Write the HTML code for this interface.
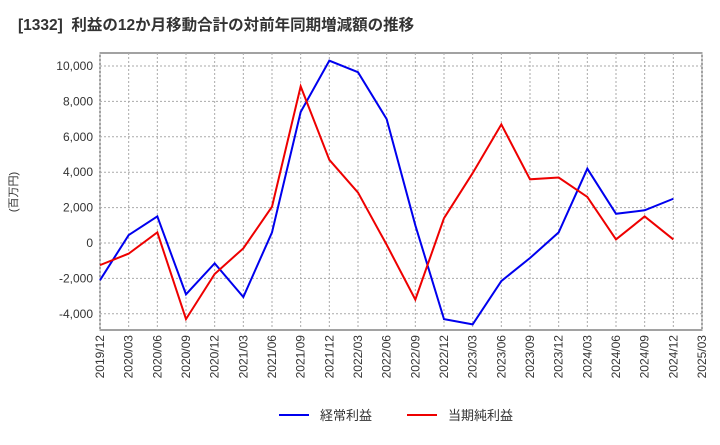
<!DOCTYPE html>
<html><head><meta charset="utf-8"><style>
body{margin:0;background:#fff;font-family:"Liberation Sans","Noto Sans CJK JP",sans-serif;}
svg text{font-family:"Liberation Sans","Noto Sans CJK JP",sans-serif;}
</style></head><body>
<svg id="c" width="720" height="440">
<text x="18" y="30" font-size="15.5" font-weight="bold" fill="#333" xml:space="preserve">[1332]  利益の12か月移動合計の対前年同期増減額の推移</text>
<text transform="translate(17,192) rotate(-90)" text-anchor="middle" font-size="11" fill="#333">(百万円)</text>
<rect x="100" y="53" width="602" height="277" fill="#fff" stroke="#444"/>
<g id="grid"></g><g id="axes"></g><g id="series"></g>
<g>
<line x1="279" y1="415" x2="309" y2="415" stroke="#0000ee" stroke-width="2"/>
<text x="320" y="420" font-size="13" fill="#333">経常利益</text>
<line x1="407" y1="415" x2="437" y2="415" stroke="#ee0000" stroke-width="2"/>
<text x="448" y="420" font-size="13" fill="#333">当期純利益</text>
</g>
</svg>
<script>
const categories=["2019/12","2020/03","2020/06","2020/09","2020/12","2021/03","2021/06","2021/09","2021/12","2022/03","2022/06","2022/09","2022/12","2023/03","2023/06","2023/09","2023/12","2024/03","2024/06","2024/09","2024/12","2025/03"];
const keijo=[-2100,450,1500,-2900,-1150,-3050,600,7400,10300,9650,7000,1000,-4300,-4600,-2150,-850,600,4200,1650,1850,2500];
const junrieki=[-1250,-600,600,-4300,-1750,-300,2050,8850,4700,2850,-100,-3200,1400,3950,6700,3600,3700,2600,200,1500,200];
const yTicks=[-4000,-2000,0,2000,4000,6000,8000,10000];
const yTickLabels=["-4,000","-2,000","0","2,000","4,000","6,000","8,000","10,000"];
const NS="http://www.w3.org/2000/svg";
const x=i=>100+i*602/(categories.length-1);
const y=v=>243-v*(177/10000);
function mk(t,a,p){const e=document.createElementNS(NS,t);for(const k in a)e.setAttribute(k,a[k]);p.appendChild(e);return e;}
const g=document.getElementById('grid'),ax=document.getElementById('axes'),s=document.getElementById('series');
yTicks.forEach((v,i)=>{
 const l=mk('line',{x1:100,x2:702,y1:y(v),y2:y(v),stroke:'#aaa','stroke-dasharray':'2,2'},g);
 
 
 const t=mk('text',{x:93,y:y(v)+4,'text-anchor':'end','font-size':12,fill:'#333'},ax);
 t.textContent=yTickLabels[i];
 
 
});
categories.forEach((c,i)=>{
 const l=mk('line',{x1:x(i),x2:x(i),y1:53,y2:330,stroke:'#aaa','stroke-dasharray':'2,2'},g);
 
 
 const t=mk('text',{transform:`translate(${x(i)+4},335) rotate(-90)`,'text-anchor':'end','font-size':12,fill:'#333'},ax);
 t.textContent=c;
 
 
});
function line(d,col,name){
 const p=mk('polyline',{points:d.map((v,i)=>x(i)+','+y(v)).join(' '),fill:'none',stroke:col,'stroke-width':2},s);
 
 
}
line(keijo,'#0000ee','keijo-line');
line(junrieki,'#ee0000','junrieki-line');
</script>
</body></html>
